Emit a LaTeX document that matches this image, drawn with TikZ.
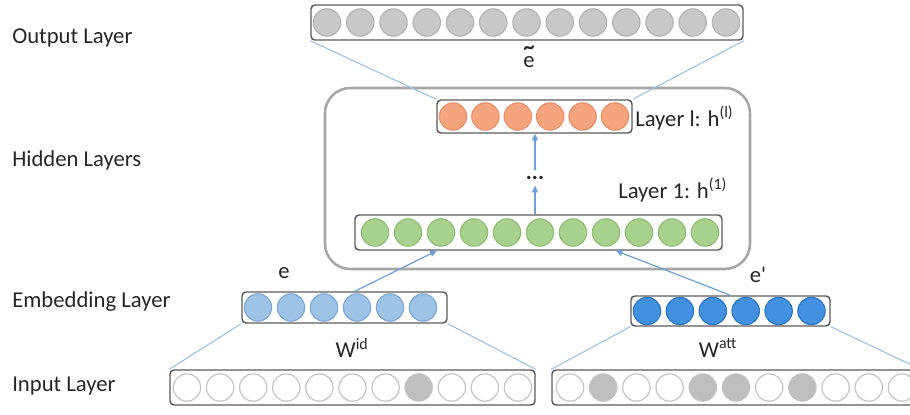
\documentclass[tikz,border=0pt]{standalone}
\usepackage{fontspec}
\setmainfont{Carlito}
\usepackage{tikz}
\usetikzlibrary{arrows.meta, positioning, fit, calc}
\definecolor{boxgray}{HTML}{5A5A5A}
\definecolor{hidgray}{HTML}{A6A6A6}
\definecolor{txtgray}{HTML}{262626}
\definecolor{outfill}{HTML}{C8C8C8}
\definecolor{outdraw}{HTML}{B4B4B4}
\definecolor{orgfill}{HTML}{F5A47E}
\definecolor{orgdraw}{HTML}{E6916B}
\definecolor{grnfill}{HTML}{A9D18E}
\definecolor{grndraw}{HTML}{91BD76}
\definecolor{lbfill}{HTML}{9DC3E6}
\definecolor{lbdraw}{HTML}{7EA9D6}
\definecolor{dbfill}{HTML}{4291E0}
\definecolor{dbdraw}{HTML}{2F78C4}
\definecolor{inoff}{HTML}{FFFFFF}
\definecolor{inon}{HTML}{BEBEBE}
\definecolor{indraw}{HTML}{C4C4C4}
\definecolor{connblue}{HTML}{9BBFE2}
\definecolor{arrblue}{HTML}{6FA0D8}

\begin{document}
\begin{tikzpicture}[
  x=0.75pt, y=-0.75pt,
  lyrbox/.style={draw=boxgray, line width=1.1pt, rounded corners=3pt, inner sep=0pt},
  hidbox/.style={draw=hidgray, line width=1.9pt, rounded corners=19pt, inner sep=0pt},
  unit/.style={circle, inner sep=0pt, minimum size=20.5pt, line width=0.9pt},
  outunit/.style={unit, fill=outfill, draw=outdraw},
  orgunit/.style={unit, fill=orgfill, draw=orgdraw},
  grnunit/.style={unit, fill=grnfill, draw=grndraw},
  lbunit/.style={unit, fill=lbfill, draw=lbdraw},
  dbunit/.style={unit, fill=dbfill, draw=dbdraw},
  conn/.style={draw=connblue, line width=0.8pt},
  arr/.style={-{Triangle[length=5pt, width=4.5pt]}, draw=arrblue, fill=arrblue, line width=0.9pt},
  lyrname/.style={font=\fontsize{17}{20}\selectfont, text=txtgray, anchor=west, inner sep=0pt},
  vec/.style={font=\fontsize{17}{20}\selectfont, text=txtgray, inner sep=0pt},
]
\useasboundingbox (0,0) rectangle (910,414);
\clip (0,0) rectangle (910,414);

% ── Layer names ─────────────────────────────────────────────
\node[lyrname] (nout) at (12,38)  {Output Layer};
\node[lyrname] (nhid) at (12,160) {Hidden Layers};
\node[lyrname] (nemb) at (12,302) {Embedding Layer};
\node[lyrname] (ninp) at (12,386) {Input Layer};

% ── Output layer ────────────────────────────────────────────
\node[lyrbox, fit={(311,5)(743,40)}] (out) {};
\foreach \i in {0,...,12}
  \node[outunit] (out\i) at (327+33.25*\i, 22.5) {};
\node[vec] (etil) at (529,62)
  {\ooalign{e\cr\hidewidth\raisebox{10pt}{\textbf{\textasciitilde}}\hidewidth\cr}};

% ── Hidden layers ───────────────────────────────────────────
\node[hidbox, fit={(325,88)(750,269)}] (hid) {};

\node[lyrbox, fit={(437,100)(632,133)}] (hl) {};
\foreach \i in {0,...,5}
  \node[orgunit] (hl\i) at (453+32.4*\i, 116.5) {};
\node[vec, anchor=west] (tl) at (635,118) {Layer l: h\textsuperscript{(l)}};

\node[lyrbox, fit={(355,215)(722,250)}] (hone) {};
\foreach \i in {0,...,10}
  \node[grnunit] (hone\i) at (375+33*\i, 232.5) {};
\node[vec, anchor=west] (tone) at (618,190) {Layer 1: h\textsuperscript{(1)}};

\node[vec, minimum height=11pt] (dots) at (535,178) {\textbf{...}};
\draw[arr] (hone.north -| dots) -- (dots.south);
\draw[arr] (dots.north) -- (hl.south -| dots);

% ── Embedding layer ─────────────────────────────────────────
\node[lyrbox, fit={(242,292)(447,323)}] (ide) {};
\foreach \i in {0,...,5}
  \node[lbunit] (ide\i) at (258+33*\i, 307.5) {};
\node[vec] (ev) at (284,273) {e};

\node[lyrbox, fit={(631,296)(830,326)}] (atte) {};
\foreach \i in {0,...,5}
  \node[dbunit] (atte\i) at (647+32.9*\i, 311) {};
\node[vec] (evp) at (758,275) {e\textquotesingle};

\draw[arr] ($(ide.north west)!0.55!(ide.north east)$) -- ($(hone.south west)!0.224!(hone.south east)$);
\draw[arr] (atte.north) -- ($(hone.south west)!0.71!(hone.south east)$);

% ── Input layer ─────────────────────────────────────────────
\node[lyrbox, fit={(170,370)(535,405)}] (inid) {};
\foreach \c [count=\i from 0] in {inoff,inoff,inoff,inoff,inoff,inoff,inoff,inon,inoff,inoff,inoff}
  \node[unit, draw=indraw, fill=\c] (inid\i) at (187+33.1*\i, 387.5) {};
\node[vec] (wid) at (352,348) {W\textsuperscript{id}};

\node[lyrbox, fit={(552,370)(920,405)}] (inatt) {};
\foreach \c [count=\i from 0] in {inoff,inon,inoff,inoff,inon,inon,inoff,inon,inoff,inoff,inoff}
  \node[unit, draw=indraw, fill=\c] (inatt\i) at (570+33.2*\i, 387.5) {};
\node[vec] (watt) at (718,348) {W\textsuperscript{att}};

% ── Projections ─────────────────────────────────────────────
\draw[conn] (out.south west) -- (hl.north west);
\draw[conn] (out.south east) -- (hl.north east);
\draw[conn] (ide.south west) -- (inid.north west);
\draw[conn] (ide.south east) -- (inid.north east);
\draw[conn] (atte.south west) -- (inatt.north west);
\draw[conn] (atte.south east) -- (inatt.north east);

\end{tikzpicture}
\end{document}
